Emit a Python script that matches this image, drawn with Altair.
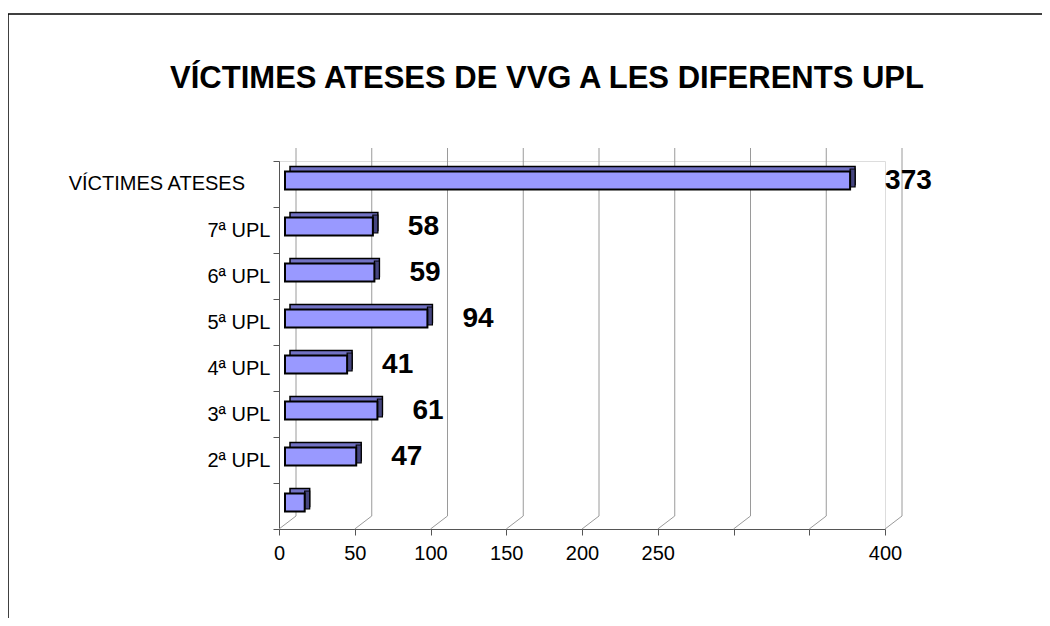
import altair as alt
import pandas as pd

# ---- data ----
categories = ["VÍCTIMES ATESES", "7ª UPL", "6ª UPL", "5ª UPL", "4ª UPL", "3ª UPL", "2ª UPL", ""]
values = [373, 58, 59, 94, 41, 61, 47, 13]
x_ticks = [0, 50, 100, 150, 200, 250, 300, 350, 400]
hidden_tick_labels = [300, 350]
title_text = "VÍCTIMES ATESES DE VVG A LES DIFERENTS UPL"
offset_label = "VÍCTIMES ATESES"

FONT = "Liberation Sans, Arial, sans-serif"
FRONT = "#9999FF"
TOP = "#7272C4"
SIDE = "#45457F"

df = pd.DataFrame({"category": categories, "value": values})
grid = pd.DataFrame({"tick": x_ticks})
one = pd.DataFrame({"a": [0]})

W, H = 606, 368
DEPTH_X, DEPTH_Y = 17, 13

xscale = alt.Scale(domain=[0, 400], nice=False, zero=True)
yscale = alt.Scale(domain=categories, paddingInner=0, paddingOuter=0)

label_expr = "indexof([" + ",".join(f"'{v}'" for v in hidden_tick_labels) + "], datum.label) >= 0 ? '' : datum.label"
ylabel_expr = f"datum.label == '{offset_label}' ? '' : datum.label"

x_axis = alt.Axis(values=x_ticks, grid=False, labelExpr=label_expr,
                  labelFont=FONT, labelFontSize=20, labelColor="black",
                  domainColor="#555555", tickColor="#555555", tickSize=6,
                  labelPadding=8, labelFlush=False, title=None)
y_axis = alt.Axis(tickBand="extent", labelFont=FONT, labelFontSize=20,
                  labelColor="black", domainColor="#555555", tickColor="#555555",
                  tickSize=6, labelPadding=3, labelExpr=ylabel_expr, title=None)


def X(field="value:Q"):
    return alt.X(field, scale=xscale, axis=x_axis, title=None)


def Y():
    return alt.Y("category:N", scale=yscale, sort=categories, axis=y_axis, title=None)


# axes layer (invisible marks, axes only)
axes = alt.Chart(df).mark_point(opacity=0).encode(x=X(), y=Y())

# back-wall gridlines
grid_back = alt.Chart(grid).mark_rule(color="#9a9a9a", strokeWidth=1, xOffset=DEPTH_X).encode(
    x=X("tick:Q"),
    y=alt.value(-DEPTH_Y),
    y2=alt.value(H - DEPTH_Y),
)
# floor diagonals
grid_diag = alt.Chart(grid).mark_rule(color="#9a9a9a", strokeWidth=1, x2Offset=DEPTH_X).encode(
    x=X("tick:Q"),
    x2="tick:Q",
    y=alt.value(H),
    y2=alt.value(H - DEPTH_Y),
)

back = alt.Chart(df).mark_bar(height=18, xOffset=6 + 5, x2Offset=6 + 5, yOffset=-3.5 - 5,
                              fill=TOP, stroke="black", strokeWidth=1.5).encode(
    x=X(), x2=alt.datum(0), y=Y())
side = alt.Chart(df).mark_bar(height=18, xOffset=6 + 5, x2Offset=6, yOffset=-6,
                              fill=SIDE, stroke="black", strokeWidth=1.2).encode(
    x=X(), x2="value:Q", y=Y())
front = alt.Chart(df).mark_bar(height=18, xOffset=6, x2Offset=6, yOffset=-3.5,
                               fill=FRONT, stroke="black", strokeWidth=2).encode(
    x=X(), x2=alt.datum(0), y=Y())

labels = alt.Chart(df).transform_filter("datum.category != ''").mark_text(
    align="left", baseline="middle", dx=41, dy=-3, font=FONT, fontSize=28,
    fontWeight="bold", color="black").encode(
    x=X(), y=Y(),
    text=alt.Text("value:Q", format="d"),
)

# the first category label sits further left in the reference
cat_label = alt.Chart(df).transform_filter(f"datum.category == '{offset_label}'").mark_text(
    align="right", baseline="middle", font=FONT, fontSize=20, color="black").encode(
    x=alt.value(-34), y=Y(), text="category:N")

title = alt.Chart(one).mark_text(align="center", baseline="middle", font=FONT,
                                 fontSize=31, fontWeight="bold", color="black").encode(
    x=alt.value(268), y=alt.value(-82), text=alt.value(title_text))

border_top = alt.Chart(one).mark_rule(color="black", strokeWidth=1.5).encode(
    x=alt.value(-271), x2=alt.value(800), y=alt.value(-147))
border_left = alt.Chart(one).mark_rule(color="black", strokeWidth=1.5).encode(
    x=alt.value(-271), y=alt.value(-147), y2=alt.value(500))

chart = alt.layer(axes, grid_back, grid_diag, back, side, front, labels, cat_label, title,
                  border_top, border_left).properties(
    width=W, height=H,
    padding={"left": 271, "top": 153, "right": 157, "bottom": 89},
    autosize=alt.AutoSizeParams(type="none"),
).configure_view(stroke=None).configure(background="white")

chart.save("out.html", embed_options={"renderer": "svg", "actions": False})
